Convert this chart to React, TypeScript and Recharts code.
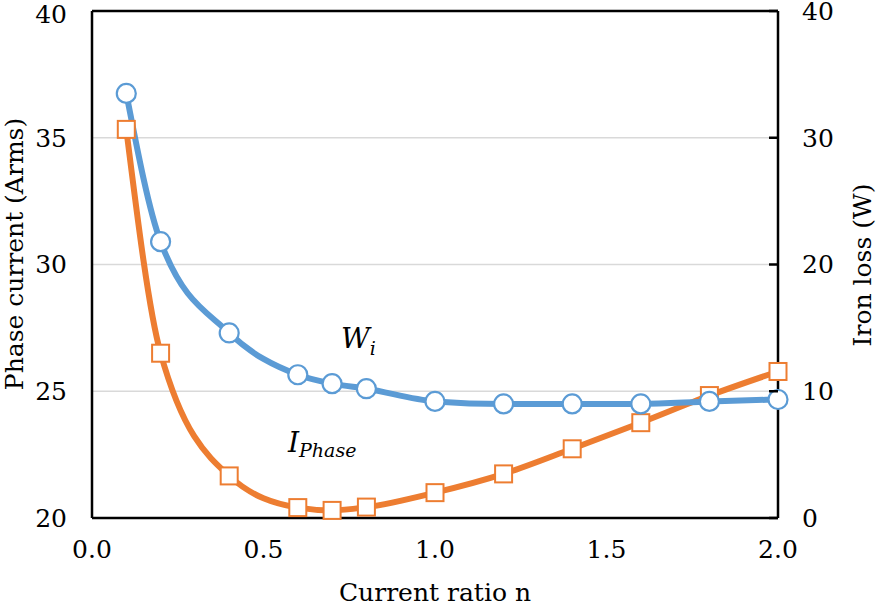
import React from "react";
import {
  LineChart,
  Line,
  XAxis,
  YAxis,
  CartesianGrid,
  ReferenceLine,
  Customized,
} from "recharts";

const ratio = [0.1, 0.2, 0.4, 0.6, 0.7, 0.8, 1.0, 1.2, 1.4, 1.6, 1.8, 2.0];
const phaseCurrent = [35.33, 26.5, 21.66, 20.41, 20.3, 20.43, 21.0, 21.74, 22.73, 23.76, 24.83, 25.78];
const ironLoss = [33.5, 21.8, 14.6, 11.3, 10.6, 10.2, 9.2, 9.0, 9.0, 9.0, 9.2, 9.35];

const xTicks = [0, 0.5, 1.0, 1.5, 2.0];
const leftTicks = [20, 25, 30, 35, 40];
const rightTicks = [0, 10, 20, 30, 40];

const data = ratio.map((n, i) => ({
  n,
  phase: phaseCurrent[i],
  loss: ironLoss[i],
}));

// Liberation Serif is not picked up here, DejaVu Serif is
const FONT = "DejaVu Serif";
const FS = 25;
const BLUE = "#5B9BD5";
const ORANGE = "#ED7D31";

const SquareDot = (props: any) => {
  const { cx, cy, index } = props;
  return (
    <rect
      key={`sq-${index}`}
      x={cx - 8.5}
      y={cy - 8.5}
      width={17}
      height={17}
      fill="#fff"
      stroke={ORANGE}
      strokeWidth={2}
    />
  );
};

const CircleDot = (props: any) => {
  const { cx, cy, index } = props;
  return (
    <circle
      key={`ci-${index}`}
      cx={cx}
      cy={cy}
      r={9.5}
      fill="#fff"
      stroke={BLUE}
      strokeWidth={2.2}
    />
  );
};

const RightTick = (props: any) => {
  const { x, y, payload } = props;
  return (
    <g>
      <line x1={x - 24 - 9} x2={x - 24} y1={y} y2={y} stroke="#000" strokeWidth={2.5} />
      <text x={x} y={y} dy="0.355em" textAnchor="start" fontSize={FS} fontFamily={FONT} fill="#000">
        {payload.value}
      </text>
    </g>
  );
};

const Titles = () => (
  <g fontFamily={FONT} fill="#000">
    <text x={435} y={601} textAnchor="middle" fontSize={FS}>
      Current ratio n
    </text>
    <text x={23} y={254} textAnchor="middle" fontSize={FS} transform="rotate(-90 23 254)">
      Phase current (Arms)
    </text>
    <text x={871} y={265} textAnchor="middle" fontSize={FS} transform="rotate(-90 871 265)">
      Iron loss (W)
    </text>
    <text x={341} y={348} fontSize={28} fontStyle="italic">
      W<tspan fontSize={19} dy={7}>i</tspan>
    </text>
    <text x={288} y={452} fontSize={28} fontStyle="italic">
      I<tspan fontSize={19} dy={5}>Phase</tspan>
    </text>
  </g>
);

export default function App() {
  return (
    <div style={{ position: "absolute", left: 0, top: 0, background: "#fff" }}>
      <LineChart
        width={878}
        height={608}
        data={data}
        margin={{ top: 11, right: 0, bottom: 0, left: 0 }}
      >
        <CartesianGrid
          yAxisId="left"
          vertical={false}
          stroke="#d9d9d9"
          strokeWidth={1.5}
        />
        <XAxis
          dataKey="n"
          type="number"
          domain={[0, 2]}
          ticks={xTicks}
          tickFormatter={(v: number) => v.toFixed(1)}
          height={90}
          tickLine={false}
          tickSize={0}
          tickMargin={22}
          axisLine={{ stroke: "#000", strokeWidth: 2.5 }}
          tick={{ fontSize: FS, fontFamily: FONT, fill: "#000" }}
        />
        <YAxis
          yAxisId="left"
          domain={[20, 40]}
          ticks={leftTicks}
          width={92}
          tickLine={false}
          tickSize={0}
          tickMargin={25}
          axisLine={{ stroke: "#000", strokeWidth: 2.5 }}
          tick={{ fontSize: FS, fontFamily: FONT, fill: "#000" }}
        />
        <YAxis
          yAxisId="right"
          orientation="right"
          domain={[0, 40]}
          ticks={rightTicks}
          width={100}
          tickLine={false}
          tickSize={0}
          tickMargin={24}
          axisLine={{ stroke: "#000", strokeWidth: 2.5 }}
          tick={<RightTick />}
        />
        <ReferenceLine yAxisId="left" y={40} stroke="#000" strokeWidth={2.5} />
        <Line
          yAxisId="left"
          dataKey="phase"
          type="monotone"
          stroke={ORANGE}
          strokeWidth={6}
          dot={SquareDot}
          activeDot={false}
          isAnimationActive={false}
        />
        <Line
          yAxisId="right"
          dataKey="loss"
          type="monotone"
          stroke={BLUE}
          strokeWidth={6}
          dot={CircleDot}
          activeDot={false}
          isAnimationActive={false}
        />
        <Customized component={Titles} />
      </LineChart>
    </div>
  );
}
